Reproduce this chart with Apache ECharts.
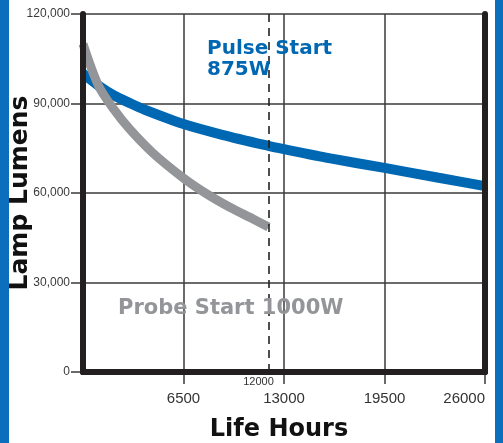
<!DOCTYPE html>
<html>
<head>
<meta charset="utf-8">
<script src="https://cdn.jsdelivr.net/npm/echarts@6/dist/echarts.min.js"></script>
<style>
  html, body { margin: 0; padding: 0; background: #fff; }
  #wrap { position: relative; width: 503px; height: 443px; }
  #chart { width: 503px; height: 443px; }
  .strip { position: absolute; top: 0; height: 443px; background: #0b6fbd; }
</style>
</head>
<body>
<div id="wrap">
  <div id="chart"></div>
  <div class="strip" style="left:0;width:9px"></div>
  <div class="strip" style="left:495px;width:8px"></div>
</div>
<script>
// life hours on x, lumens on y
const xTicks = [6500, 13000, 19500, 26000]

const pulseHours = [0, 1000, 2000, 3000, 4000, 6500, 9000, 12000, 13000, 16000, 19500, 23000, 26000]
const pulseLumens = [100000, 96000, 92700, 90200, 87900, 83100, 79500, 75800, 74700, 71600, 68400, 65100, 62300]

const probeHours = [0, 1000, 2000, 3000, 4500, 6500, 8000, 9500, 11000, 12000]
const probeLumens = [110000, 96000, 88000, 81500, 73500, 65000, 59700, 55200, 51300, 48600]

const cutoffHours = 12000

const frameColor = '#231f20'
const gridColor = '#3a3a3a'

const chart = echarts.init(document.getElementById('chart'))

// axes used only for the thick frame lines that sit above the curves
const frameAxis = {
  type: 'value',
  axisLine: { show: true, lineStyle: { color: frameColor, width: 6 } },
  axisTick: { show: false },
  axisLabel: { show: false },
  splitLine: { show: false },
  z: 10
}

chart.setOption({
  animation: false,
  backgroundColor: '#fff',
  grid: {
    left: 83, right: 18, top: 14, bottom: 71,
    containLabel: false,
    outerBoundsMode: 'none'
  },
  xAxis: [
    {
      type: 'value',
      position: 'bottom',
      min: 0,
      max: 26000,
      interval: 6500,
      name: 'Life Hours',
      nameLocation: 'middle',
      nameGap: 46,
      nameMoveOverlap: false,
      nameTextStyle: {
        fontFamily: 'DejaVu Sans',
        fontWeight: 'bold',
        fontSize: 24,
        color: '#111',
        padding: [0, 10, 0, 0]
      },
      axisLine: { show: true, lineStyle: { color: frameColor, width: 6 } },
      axisTick: {
        show: true,
        length: 12,
        customValues: xTicks,
        lineStyle: { color: gridColor, width: 1.5 }
      },
      axisLabel: {
        customValues: xTicks,
        margin: 19,
        alignMaxLabel: 'right',
        fontFamily: 'Liberation Sans',
        fontSize: 15,
        color: '#333',
        formatter: v => String(v)
      },
      splitLine: { show: true, lineStyle: { color: gridColor, width: 1.5 } }
    },
    Object.assign({}, frameAxis, { position: 'top', min: 0, max: 26000 })
  ],
  yAxis: [
    {
      type: 'value',
      position: 'left',
      min: 0,
      max: 120000,
      interval: 30000,
      name: 'Lamp Lumens',
      nameLocation: 'middle',
      nameGap: 50,
      nameMoveOverlap: false,
      nameTextStyle: {
        fontFamily: 'DejaVu Sans',
        fontWeight: 'bold',
        fontSize: 25,
        color: '#111'
      },
      axisLine: { show: false },
      axisTick: { show: true, length: 12, lineStyle: { color: gridColor, width: 1.5 } },
      axisLabel: {
        margin: 13,
        fontFamily: 'Liberation Sans',
        fontSize: 12,
        color: '#3a3a3a',
        formatter: v => v.toLocaleString('en-US')
      },
      splitLine: { show: true, lineStyle: { color: gridColor, width: 1.5 } }
    },
    Object.assign({}, frameAxis, { position: 'left', min: 0, max: 120000 }),
    Object.assign({}, frameAxis, { position: 'right', min: 0, max: 120000 })
  ],
  series: [
    {
      name: 'Pulse Start 875W',
      type: 'line',
      smooth: 0.3,
      symbol: 'none',
      lineStyle: { color: '#0068b3', width: 10, cap: 'butt' },
      data: pulseHours.map((h, i) => [h, pulseLumens[i]])
    },
    {
      name: 'Probe Start 1000W',
      type: 'line',
      smooth: 0.3,
      symbol: 'none',
      lineStyle: { color: '#939598', width: 9, cap: 'butt' },
      data: probeHours.map((h, i) => [h, probeLumens[i]]),
      markLine: {
        silent: true,
        symbol: 'none',
        lineStyle: { color: '#222', width: 1.6, type: [8, 6] },
        label: {
          show: true,
          position: 'start',
          distance: 4,
          formatter: '12000',
          fontFamily: 'Liberation Sans',
          fontSize: 11,
          color: '#333',
          padding: [0, 20, 0, 0]
        },
        data: [{ xAxis: cutoffHours }]
      }
    }
  ],
  graphic: [
    {
      type: 'text',
      left: 207,
      top: 38,
      style: {
        text: 'Pulse Start\n875W',
        fontFamily: 'DejaVu Sans',
        fontWeight: 'bold',
        fontSize: 20,
        lineHeight: 21,
        fill: '#0068b3'
      },
      z: 20
    },
    {
      type: 'text',
      left: 118,
      top: 298,
      style: {
        text: 'Probe Start 1000W',
        fontFamily: 'DejaVu Sans',
        fontWeight: 'bold',
        fontSize: 21,
        fill: '#939598'
      },
      z: 20
    }
  ]
})
</script>
</body>
</html>
